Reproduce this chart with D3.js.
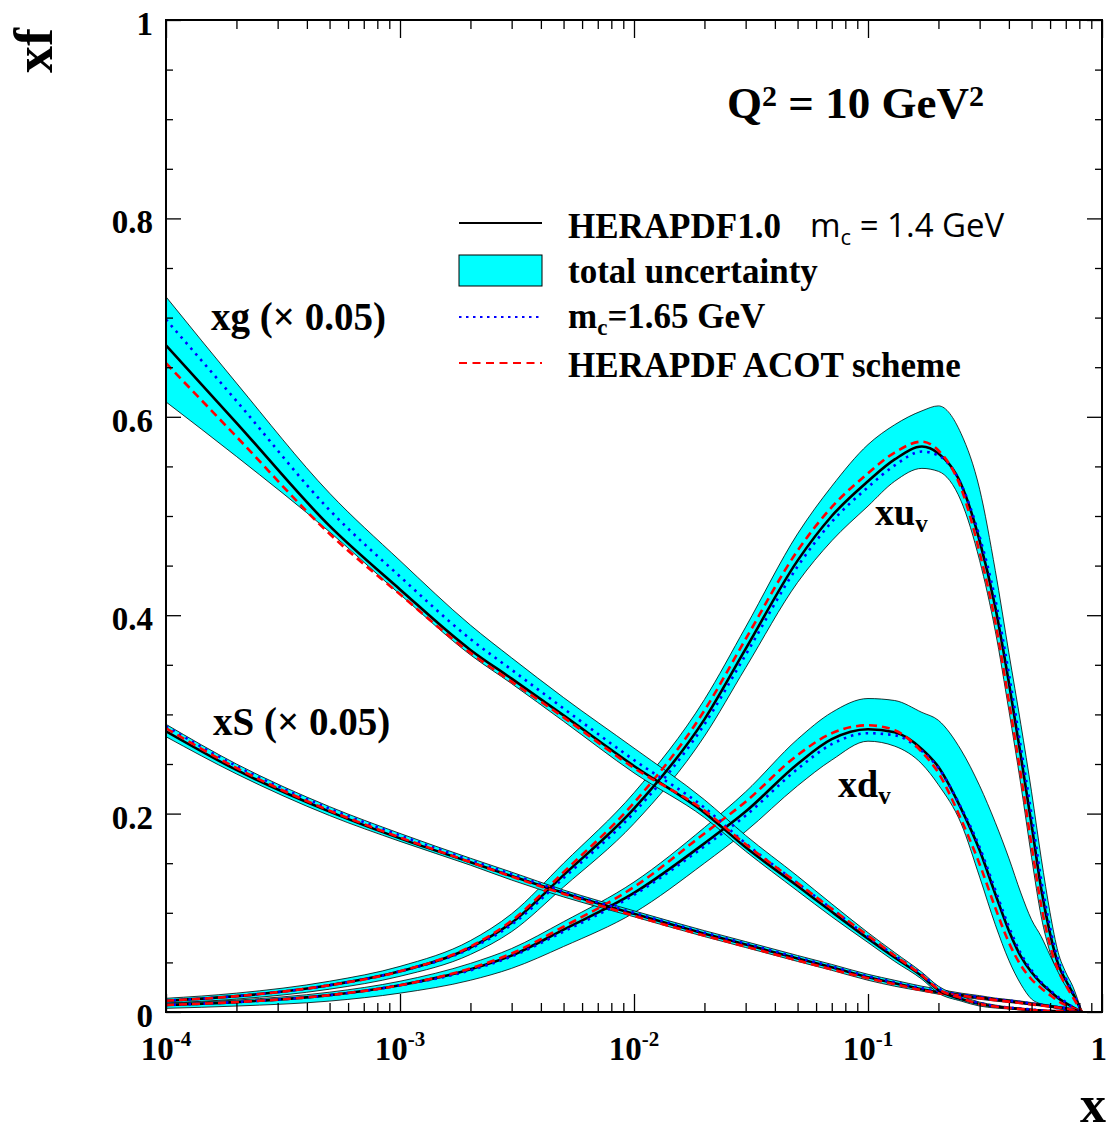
<!DOCTYPE html>
<html>
<head>
<meta charset="utf-8">
<script src="https://cdn.jsdelivr.net/npm/d3@7"></script>
<style>
body { margin: 0; background: #fff; }
svg text { font-family: "Liberation Serif", "Times New Roman", serif; font-weight: bold; fill: #000; }
</style>
</head>
<body>
<div id="viz"></div>
<script>
// x grid shared by all curves
var xGrid = [1e-4, 2e-4, 5e-4, 1e-3, 2e-3, 3e-3, 5e-3, 0.01, 0.02, 0.03, 0.05, 0.07, 0.1, 0.13, 0.17, 0.2,
             0.25, 0.3, 0.35, 0.4, 0.45, 0.5, 0.55, 0.6, 0.65, 0.7, 0.75, 0.82];

// xu_v
var xuvCentral = [0.0114, 0.016, 0.027, 0.041, 0.065, 0.090, 0.138, 0.205, 0.295, 0.366, 0.455, 0.500, 0.535, 0.557, 0.570, 0.563,
                  0.532, 0.475, 0.408, 0.332, 0.258, 0.189, 0.124, 0.079, 0.048, 0.032, 0.019, 0];
var xuvUp = [0.0138, 0.019, 0.031, 0.046, 0.072, 0.099, 0.150, 0.221, 0.315, 0.388, 0.482, 0.530, 0.572, 0.592, 0.606, 0.611,
             0.583, 0.527, 0.445, 0.362, 0.290, 0.222, 0.155, 0.100, 0.060, 0.040, 0.026, 0];
var xuvLow = [0.009, 0.013, 0.023, 0.036, 0.058, 0.081, 0.126, 0.190, 0.278, 0.347, 0.433, 0.475, 0.510, 0.535, 0.548, 0.545,
              0.515, 0.455, 0.384, 0.304, 0.229, 0.156, 0.096, 0.060, 0.038, 0.023, 0.010, 0];
var xuvMc165 = [0.0114, 0.016, 0.027, 0.041, 0.064, 0.088, 0.135, 0.201, 0.290, 0.360, 0.449, 0.494, 0.529, 0.551, 0.565, 0.561,
                0.532, 0.479, 0.416, 0.341, 0.267, 0.199, 0.133, 0.085, 0.052, 0.034, 0.020, 0];
var xuvAcot = [0.0114, 0.016, 0.027, 0.041, 0.066, 0.092, 0.141, 0.211, 0.304, 0.376, 0.465, 0.509, 0.543, 0.564, 0.575, 0.566,
               0.528, 0.463, 0.393, 0.313, 0.239, 0.168, 0.107, 0.067, 0.042, 0.027, 0.015, 0];

// xd_v
var xdvCentral = [0.0071, 0.010, 0.017, 0.027, 0.043, 0.057, 0.083, 0.120, 0.170, 0.202, 0.250, 0.275, 0.285, 0.282, 0.265, 0.247,
                  0.205, 0.163, 0.119, 0.082, 0.056, 0.040, 0.029, 0.021, 0.014, 0.009, 0.005, 0];
var xdvUp = [0.0088, 0.012, 0.020, 0.031, 0.049, 0.064, 0.091, 0.131, 0.186, 0.222, 0.275, 0.302, 0.316, 0.314, 0.302, 0.294,
             0.264, 0.228, 0.191, 0.155, 0.120, 0.093, 0.076, 0.057, 0.040, 0.026, 0.017, 0];
var xdvLow = [0.0037, 0.006, 0.011, 0.019, 0.032, 0.044, 0.066, 0.100, 0.150, 0.182, 0.228, 0.254, 0.273, 0.268, 0.250, 0.229,
              0.190, 0.136, 0.088, 0.052, 0.028, 0.013, 0.008, 0.005, 0.003, 0.002, 0.001, 0];
var xdvMc165 = [0.0071, 0.010, 0.017, 0.027, 0.042, 0.056, 0.081, 0.118, 0.167, 0.198, 0.245, 0.270, 0.281, 0.279, 0.263, 0.246,
                0.206, 0.166, 0.123, 0.086, 0.059, 0.042, 0.030, 0.022, 0.015, 0.010, 0.005, 0];
var xdvAcot = [0.0071, 0.010, 0.017, 0.027, 0.044, 0.059, 0.086, 0.126, 0.180, 0.212, 0.259, 0.281, 0.289, 0.284, 0.262, 0.241,
               0.194, 0.149, 0.105, 0.070, 0.047, 0.033, 0.024, 0.017, 0.011, 0.007, 0.004, 0];

// xg (x 0.05)
var xgCentral = [0.672, 0.594, 0.490, 0.426, 0.365, 0.336, 0.299, 0.248, 0.201, 0.166, 0.127, 0.101, 0.074, 0.055, 0.036, 0.022,
                 0.013, 0.008, 0.0055, 0.004, 0.003, 0.002, 0.0015, 0.001, 0.0008, 0.0005, 0.0003, 0];
var xgUp = [0.721, 0.634, 0.523, 0.455, 0.390, 0.357, 0.317, 0.266, 0.214, 0.178, 0.137, 0.109, 0.080, 0.060, 0.040, 0.026,
            0.016, 0.010, 0.007, 0.005, 0.004, 0.003, 0.002, 0.0015, 0.001, 0.0008, 0.0005, 0];
var xgLow = [0.615, 0.560, 0.484, 0.421, 0.360, 0.331, 0.293, 0.241, 0.196, 0.162, 0.122, 0.096, 0.070, 0.051, 0.033, 0.019,
             0.011, 0.006, 0.004, 0.003, 0.002, 0.0013, 0.001, 0.0006, 0.0004, 0.0002, 0.0001, 0];
var xgMc165 = [0.698, 0.616, 0.506, 0.439, 0.376, 0.345, 0.306, 0.254, 0.206, 0.170, 0.130, 0.104, 0.076, 0.057, 0.038, 0.024,
               0.014, 0.009, 0.006, 0.0045, 0.0035, 0.0025, 0.0018, 0.0012, 0.0009, 0.0006, 0.0003, 0];
var xgAcot = [0.654, 0.580, 0.482, 0.421, 0.362, 0.333, 0.297, 0.246, 0.203, 0.169, 0.130, 0.104, 0.077, 0.057, 0.037, 0.023,
              0.014, 0.008, 0.0055, 0.004, 0.003, 0.002, 0.0015, 0.001, 0.0008, 0.0005, 0.0003, 0];

// xS (x 0.05)
var xsCentral = [0.283, 0.244, 0.202, 0.175, 0.151, 0.137, 0.120, 0.099, 0.079, 0.068, 0.054, 0.045, 0.035, 0.029, 0.023, 0.020,
                 0.017, 0.0145, 0.0125, 0.011, 0.0095, 0.008, 0.007, 0.0058, 0.0048, 0.0038, 0.0025, 0];
var xsUp = [0.290, 0.250, 0.207, 0.180, 0.155, 0.141, 0.123, 0.102, 0.082, 0.071, 0.057, 0.048, 0.038, 0.032, 0.026, 0.023,
            0.019, 0.0165, 0.014, 0.0125, 0.011, 0.0095, 0.0082, 0.0068, 0.0056, 0.0045, 0.003, 0];
var xsLow = [0.2775, 0.240, 0.198, 0.172, 0.148, 0.133, 0.116, 0.096, 0.076, 0.065, 0.051, 0.042, 0.032, 0.026, 0.021, 0.018,
             0.015, 0.0128, 0.011, 0.0096, 0.0082, 0.007, 0.006, 0.0048, 0.004, 0.003, 0.002, 0];
var xsMc165 = [0.288, 0.248, 0.205, 0.178, 0.153, 0.139, 0.121, 0.100, 0.080, 0.069, 0.055, 0.046, 0.036, 0.030, 0.024, 0.021,
               0.0175, 0.015, 0.013, 0.0115, 0.010, 0.0085, 0.0073, 0.006, 0.005, 0.004, 0.0026, 0];
var xsAcot = [0.286, 0.246, 0.203, 0.176, 0.151, 0.1365, 0.119, 0.097, 0.077, 0.066, 0.052, 0.043, 0.034, 0.028, 0.022, 0.019,
              0.0165, 0.014, 0.012, 0.0105, 0.009, 0.0077, 0.0066, 0.0055, 0.0045, 0.0035, 0.0023, 0];

var yMajor = [0, 0.2, 0.4, 0.6, 0.8, 1];
var yLabels = ["0", "0.2", "0.4", "0.6", "0.8", "1"];
var xDecades = [1e-4, 1e-3, 1e-2, 1e-1, 1];
var xExponents = ["-4", "-3", "-2", "-1", ""];

var legendLabels = ["HERAPDF1.0", "total uncertainty", "m", "HERAPDF ACOT scheme"];

var w = 1108;
var h = 1132;

var svg = d3.select("#viz")
    .append("svg")
    .attr("width", w)
    .attr("height", h);

var x = d3.scaleLog().domain([1e-4, 1]).range([166, 1102]);
var y = d3.scaleLinear().domain([0, 1]).range([1012, 20]);

svg.append("defs").append("clipPath")
    .attr("id", "plotclip")
    .append("rect")
    .attr("x", 166).attr("y", 20)
    .attr("width", 936).attr("height", 992);

var pdfs = [
    {c: xuvCentral, u: xuvUp, l: xuvLow, b: xuvMc165, r: xuvAcot},
    {c: xdvCentral, u: xdvUp, l: xdvLow, b: xdvMc165, r: xdvAcot},
    {c: xsCentral, u: xsUp, l: xsLow, b: xsMc165, r: xsAcot},
    {c: xgCentral, u: xgUp, l: xgLow, b: xgMc165, r: xgAcot}
];

var area = d3.area()
    .x(function (d) { return x(d.x); })
    .y0(function (d) { return y(d.lo); })
    .y1(function (d) { return y(d.hi); })
    .curve(d3.curveMonotoneX);

var line = d3.line()
    .x(function (d, i) { return x(xGrid[i]); })
    .y(function (d) { return y(d); })
    .curve(d3.curveMonotoneX);

var plot = svg.append("g").attr("clip-path", "url(#plotclip)");

// bands first
pdfs.forEach(function (p) {
    var rows = xGrid.map(function (xv, i) {
        return {x: xv, lo: p.l[i], hi: p.u[i]};
    });
    plot.append("path")
        .datum(rows)
        .attr("d", area)
        .attr("fill", "#00ffff")
        .attr("stroke", "#000")
        .attr("stroke-width", 0.8);
});

// then the lines
pdfs.forEach(function (p) {
    plot.append("path").datum(p.c).attr("d", line)
        .attr("fill", "none").attr("stroke", "#000").attr("stroke-width", 2.6);
    plot.append("path").datum(p.b).attr("d", line)
        .attr("fill", "none").attr("stroke", "#0000ff").attr("stroke-width", 2.6)
        .attr("stroke-dasharray", "2.5,5");
    plot.append("path").datum(p.r).attr("d", line)
        .attr("fill", "none").attr("stroke", "#ff0000").attr("stroke-width", 2.6)
        .attr("stroke-dasharray", "8,5");
});

// axes, ticks pointing inwards on all four sides
var xMinor = [];
xDecades.slice(0, 4).forEach(function (d) {
    for (var k = 2; k <= 9; k++) xMinor.push(d * k);
});
var yMinor = d3.range(0, 1.0001, 0.05).filter(function (v) {
    return Math.abs(v * 5 - Math.round(v * 5)) > 1e-6;
});

function tickAxis(axis, tr, values, size) {
    var g = svg.append("g")
        .attr("transform", tr)
        .call(axis.tickValues(values).tickSize(size).tickSizeOuter(0).tickFormat(""));
    g.select(".domain").remove();
    g.selectAll("line").attr("stroke", "#000").attr("stroke-width", 1.3);
}

tickAxis(d3.axisTop(x), "translate(0,1012)", xMinor, 9);
tickAxis(d3.axisTop(x), "translate(0,1012)", xDecades, 18);
tickAxis(d3.axisBottom(x), "translate(0,20)", xMinor, 9);
tickAxis(d3.axisBottom(x), "translate(0,20)", xDecades, 18);
tickAxis(d3.axisRight(y), "translate(166,0)", yMinor, 7);
tickAxis(d3.axisRight(y), "translate(166,0)", yMajor, 15);
tickAxis(d3.axisLeft(y), "translate(1102,0)", yMinor, 7);
tickAxis(d3.axisLeft(y), "translate(1102,0)", yMajor, 15);

svg.append("rect")
    .attr("x", 166).attr("y", 20)
    .attr("width", 936).attr("height", 992)
    .attr("fill", "none")
    .attr("stroke", "#000")
    .attr("stroke-width", 2);

// tick labels
svg.append("g").selectAll("text")
    .data(yMajor)
    .enter().append("text")
    .attr("x", 153)
    .attr("y", function (d) { return y(d) + 15; })
    .attr("text-anchor", "end")
    .style("font-size", "33px")
    .text(function (d, i) { return yLabels[i]; });

var xl = svg.append("g").selectAll("text")
    .data(xDecades)
    .enter().append("text")
    .attr("x", function (d, i) { return xExponents[i] ? x(d) : w - 1; })
    .attr("y", 1060)
    .attr("text-anchor", function (d, i) { return xExponents[i] ? "middle" : "end"; })
    .style("font-size", "33px");
xl.append("tspan").text(function (d, i) { return xExponents[i] ? "10" : "1"; });
xl.append("tspan")
    .attr("dy", -14)
    .style("font-size", "21px")
    .text(function (d, i) { return xExponents[i]; });

// axis titles
svg.append("text")
    .attr("x", w - 2).attr("y", 1122)
    .attr("text-anchor", "end")
    .style("font-size", "52px")
    .text("x");
svg.append("text")
    .attr("transform", "translate(52,28) rotate(-90)")
    .attr("text-anchor", "end")
    .style("font-size", "54px")
    .text("xf");

// Q2 label
var q = svg.append("text").attr("x", 727).attr("y", 118).style("font-size", "45px");
q.append("tspan").text("Q");
q.append("tspan").attr("dy", -12).style("font-size", "30px").text("2");
q.append("tspan").attr("dy", 12).text(" = 10 GeV");
q.append("tspan").attr("dy", -12).style("font-size", "30px").text("2");

// curve labels
svg.append("text").attr("x", 211).attr("y", 330).style("font-size", "39px").text("xg (\u00d7 0.05)");
svg.append("text").attr("x", 213).attr("y", 735).style("font-size", "39px").text("xS (\u00d7 0.05)");
var lu = svg.append("text").attr("x", 875).attr("y", 525).style("font-size", "38px");
lu.append("tspan").text("xu");
lu.append("tspan").attr("dy", 7).style("font-size", "25px").text("v");
var ld = svg.append("text").attr("x", 838).attr("y", 797).style("font-size", "38px");
ld.append("tspan").text("xd");
ld.append("tspan").attr("dy", 7).style("font-size", "25px").text("v");

// legend
var leg = svg.append("g");
leg.append("line").attr("x1", 459).attr("x2", 542).attr("y1", 223).attr("y2", 223)
    .attr("stroke", "#000").attr("stroke-width", 2.2);
leg.append("rect").attr("x", 459).attr("y", 255).attr("width", 83).attr("height", 31)
    .attr("fill", "#00ffff").attr("stroke", "#000").attr("stroke-width", 1);
leg.append("line").attr("x1", 459).attr("x2", 542).attr("y1", 317).attr("y2", 317)
    .attr("stroke", "#0000ff").attr("stroke-width", 2.2).attr("stroke-dasharray", "2.5,4.5");
leg.append("line").attr("x1", 459).attr("x2", 542).attr("y1", 363).attr("y2", 363)
    .attr("stroke", "#ff0000").attr("stroke-width", 2.2).attr("stroke-dasharray", "8,5.5");

leg.append("text").attr("x", 568).attr("y", 238).style("font-size", "35px").text(legendLabels[0]);
leg.append("text").attr("x", 568).attr("y", 283).style("font-size", "35px").text(legendLabels[1]);
var l3 = leg.append("text").attr("x", 568).attr("y", 328).style("font-size", "35px");
l3.append("tspan").text(legendLabels[2]);
l3.append("tspan").attr("dy", 7).style("font-size", "23px").text("c");
l3.append("tspan").attr("dy", -7).text("=1.65 GeV");
leg.append("text").attr("x", 568).attr("y", 377).style("font-size", "35px").text(legendLabels[3]);

var mc = leg.append("text").attr("x", 810).attr("y", 237)
    .style("font-family", "'Open Sans', 'DejaVu Sans', sans-serif")
    .style("font-weight", "normal")
    .style("font-size", "33px");
mc.append("tspan").text("m");
mc.append("tspan").attr("dy", 8).style("font-size", "22px").text("c");
mc.append("tspan").attr("dy", -8).text(" = 1.4 GeV");
</script>
</body>
</html>
